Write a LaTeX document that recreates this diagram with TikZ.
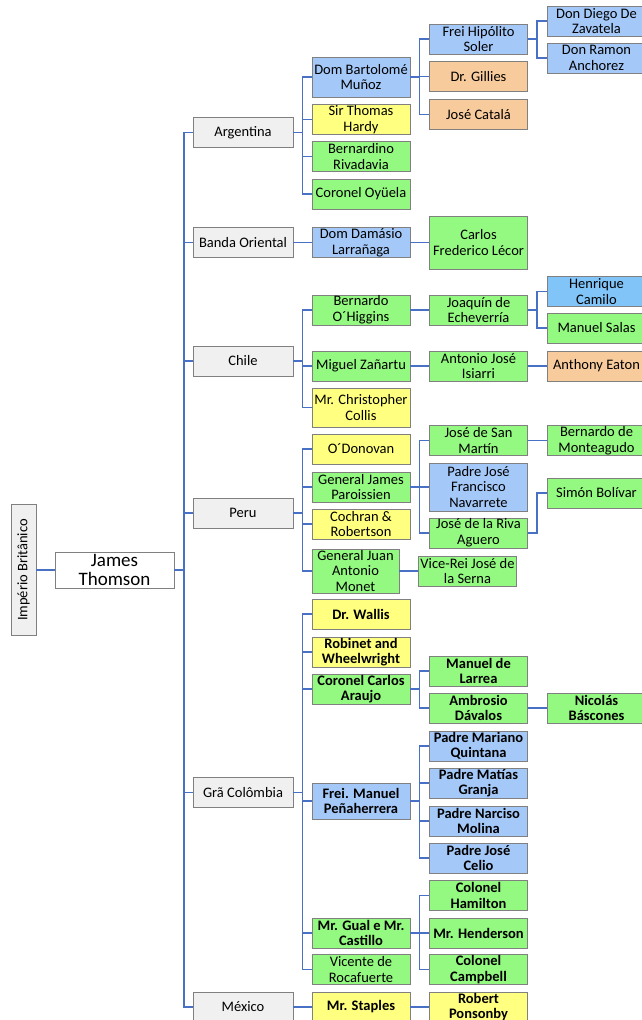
\documentclass[tikz,border=0pt]{standalone}
\usepackage{fontspec}
\setmainfont{Carlito}

\definecolor{boxline}{RGB}{128,128,128}
\definecolor{linkblue}{RGB}{72,112,196}
\definecolor{greyfill}{RGB}{240,240,240}
\definecolor{bluefill}{RGB}{164,200,248}
\definecolor{skyfill}{RGB}{128,196,248}
\definecolor{orangefill}{RGB}{248,203,157}
\definecolor{yellowfill}{RGB}{255,255,128}
\definecolor{greenfill}{RGB}{147,249,128}

\begin{document}
\begin{tikzpicture}[
        x=1pt, y=-1pt,
        base/.style={rectangle, draw=boxline, line width=0.8pt, align=center, inner xsep=1pt, inner ysep=0pt, minimum width=98pt, minimum height=30pt, font=\fontsize{14.5}{15.6}\selectfont},
        country/.style={base, fill=greyfill, minimum width=100pt},
        bluebox/.style={base, fill=bluefill},
        skybox/.style={base, fill=skyfill},
        orangebox/.style={base, fill=orangefill},
        yellowbox/.style={base, fill=yellowfill},
        greenbox/.style={base, fill=greenfill},
        heavy/.style={font=\fontsize{14.5}{15.6}\selectfont\bfseries},
        link/.style={draw=linkblue, line width=1.3pt}
    ]
    \useasboundingbox (0,0) rectangle (641,1020);

    \node[base, fill=greyfill, rotate=90, minimum width=131pt, minimum height=25pt] (imperio) at (23.5,570) {Império Britânico};
    \node[base, fill=white, minimum width=119pt, minimum height=36pt, font=\fontsize{19}{18.5}\selectfont] (james) at (114.5,570) {James\\Thomson};

    \node[country] (argentina) at (243,132.5) {Argentina};
    \node[country] (banda) at (243,242.5) {Banda Oriental};
    \node[country] (chile) at (243,361) {Chile};
    \node[country] (peru) at (243,513) {Peru};
    \node[country] (gran) at (243,792.5) {Grã Colômbia};
    \node[country] (mexico) at (243,1007) {México};

    \node[bluebox, minimum height=40pt] (bartolome) at (361,77) {Dom Bartolomé\\Muñoz};
    \node[yellowbox] (hardy) at (361,119.5) {Sir Thomas\\Hardy};
    \node[greenbox] (rivadavia) at (361,156.5) {Bernardino\\Rivadavia};
    \node[greenbox] (oyuela) at (361,194) {Coronel Oyüela};
    \node[bluebox] (damasio) at (361,242.5) {Dom Damásio\\Larrañaga};
    \node[greenbox] (ohiggins) at (361,310) {Bernardo\\O´Higgins};
    \node[greenbox] (zanartu) at (361,366) {Miguel Zañartu};
    \node[yellowbox, minimum height=39pt] (collis) at (361,407.5) {Mr. Christopher\\Collis};
    \node[yellowbox] (odonovan) at (361,449) {O´Donovan};
    \node[greenbox] (paroissien) at (361,487) {General James\\Paroissien};
    \node[yellowbox] (cochran) at (361,524) {Cochran \&\\Robertson};
    \node[greenbox, minimum width=87pt, minimum height=44pt] (monet) at (355.5,571) {General Juan\\Antonio\\Monet};
    \node[yellowbox, heavy] (wallis) at (361,614) {Dr. Wallis};
    \node[yellowbox, heavy] (robinet) at (361,652) {Robinet and\\Wheelwright};
    \node[greenbox, heavy] (araujo) at (361,689) {Coronel Carlos\\Araujo};
    \node[bluebox, heavy, minimum height=36pt] (penaherrera) at (361,801) {Frei. Manuel\\Peñaherrera};
    \node[greenbox, heavy] (gual) at (361,933) {Mr. Gual e Mr.\\Castillo};
    \node[greenbox] (rocafuerte) at (361,969.5) {Vicente de\\Rocafuerte};
    \node[yellowbox, heavy] (staples) at (361,1007) {Mr. Staples};

    \node[bluebox] (hipolito) at (478.5,39) {Frei Hipólito\\Soler};
    \node[orangebox] (gillies) at (478.5,76.5) {Dr. Gillies};
    \node[orangebox] (catala) at (478.5,114.5) {José Catalá};
    \node[greenbox, minimum height=53pt] (lecor) at (478.5,242.5) {Carlos\\Frederico Lécor};
    \node[greenbox] (joaquin) at (478.5,310) {Joaquín de\\Echeverría};
    \node[greenbox] (isiarri) at (478.5,366) {Antonio José\\Isiarri};
    \node[greenbox] (sanmartin) at (478.5,440.5) {José de San\\Martín};
    \node[bluebox, minimum height=48pt] (navarrete) at (478.5,487) {Padre José\\Francisco\\Navarrete};
    \node[greenbox] (riva) at (478.5,533) {José de la Riva\\Aguero};
    \node[greenbox] (serna) at (467.5,571) {Vice-Rei José de\\la Serna};
    \node[greenbox, heavy] (larrea) at (478.5,671) {Manuel de\\Larrea};
    \node[greenbox, heavy] (davalos) at (478.5,708) {Ambrosio\\Dávalos};
    \node[bluebox, heavy] (quintana) at (478.5,746) {Padre Mariano\\Quintana};
    \node[bluebox, heavy] (granja) at (478.5,783) {Padre Matías\\Granja};
    \node[bluebox, heavy] (molina) at (478.5,821) {Padre Narciso\\Molina};
    \node[bluebox, heavy] (celio) at (478.5,858) {Padre José\\Celio};
    \node[greenbox, heavy] (hamilton) at (478.5,895.5) {Colonel\\Hamilton};
    \node[greenbox, heavy] (henderson) at (478.5,933) {Mr. Henderson};
    \node[greenbox, heavy] (campbell) at (478.5,969.5) {Colonel\\Campbell};
    \node[yellowbox, heavy] (ponsonby) at (478.5,1007) {Robert\\Ponsonby};

    \node[bluebox] (zavatela) at (596.5,21) {Don Diego De\\Zavatela};
    \node[bluebox] (anchorez) at (596.5,58) {Don Ramon\\Anchorez};
    \node[skybox] (camilo) at (596.5,291.5) {Henrique\\Camilo};
    \node[greenbox] (salas) at (596.5,328) {Manuel Salas};
    \node[orangebox] (eaton) at (596.5,366) {Anthony Eaton};
    \node[greenbox] (monteagudo) at (596.5,440.5) {Bernardo de\\Monteagudo};
    \node[greenbox] (bolivar) at (596.5,493) {Simón Bolívar};
    \node[greenbox, heavy] (bascones) at (596.5,708) {Nicolás\\Báscones};

    \draw[link] (imperio) -- (james);
    \draw[link] (james.east) -- ++(9.5,0) |- (argentina.west);
    \draw[link] (james.east) -- ++(9.5,0) |- (banda.west);
    \draw[link] (james.east) -- ++(9.5,0) |- (chile.west);
    \draw[link] (james.east) -- ++(9.5,0) |- (peru.west);
    \draw[link] (james.east) -- ++(9.5,0) |- (gran.west);
    \draw[link] (james.east) -- ++(9.5,0) |- (mexico.west);

    \draw[link] (argentina.east) -- ++(9,0) |- (bartolome.west);
    \draw[link] (argentina.east) -- ++(9,0) |- (hardy.west);
    \draw[link] (argentina.east) -- ++(9,0) |- (rivadavia.west);
    \draw[link] (argentina.east) -- ++(9,0) |- (oyuela.west);
    \draw[link] (bartolome.east) -- ++(9,0) |- (hipolito.west);
    \draw[link] (bartolome.east) -- ++(9,0) |- (gillies.west);
    \draw[link] (bartolome.east) -- ++(9,0) |- (catala.west);
    \draw[link] (hipolito.east) -- ++(9,0) |- (zavatela.west);
    \draw[link] (hipolito.east) -- ++(9,0) |- (anchorez.west);

    \draw[link] (banda) -- (damasio);
    \draw[link] (damasio) -- (lecor);

    \draw[link] (chile.east) -- ++(9,0) |- (ohiggins.west);
    \draw[link] (chile.east) -- ++(9,0) |- (zanartu.west);
    \draw[link] (chile.east) -- ++(9,0) |- (collis.west);
    \draw[link] (ohiggins) -- (joaquin);
    \draw[link] (joaquin.east) -- ++(9,0) |- (camilo.west);
    \draw[link] (joaquin.east) -- ++(9,0) |- (salas.west);
    \draw[link] (zanartu) -- (isiarri);
    \draw[link] (isiarri) -- (eaton);

    \draw[link] (peru.east) -- ++(9,0) |- (odonovan.west);
    \draw[link] (peru.east) -- ++(9,0) |- (paroissien.west);
    \draw[link] (peru.east) -- ++(9,0) |- (cochran.west);
    \draw[link] (peru.east) -- ++(9,0) |- (monet.west);
    \draw[link] (paroissien.east) -- ++(9,0) |- (sanmartin.west);
    \draw[link] (paroissien.east) -- ++(9,0) |- (navarrete.west);
    \draw[link] (paroissien.east) -- ++(9,0) |- (riva.west);
    \draw[link] (sanmartin) -- (monteagudo);
    \draw[link] (riva.east) -- ++(9,0) |- (bolivar.west);
    \draw[link] (monet) -- (serna);

    \draw[link] (gran.east) -- ++(9,0) |- (wallis.west);
    \draw[link] (gran.east) -- ++(9,0) |- (robinet.west);
    \draw[link] (gran.east) -- ++(9,0) |- (araujo.west);
    \draw[link] (gran.east) -- ++(9,0) |- (penaherrera.west);
    \draw[link] (gran.east) -- ++(9,0) |- (gual.west);
    \draw[link] (gran.east) -- ++(9,0) |- (rocafuerte.west);
    \draw[link] (araujo.east) -- ++(9,0) |- (larrea.west);
    \draw[link] (araujo.east) -- ++(9,0) |- (davalos.west);
    \draw[link] (davalos) -- (bascones);
    \draw[link] (penaherrera.east) -- ++(9,0) |- (quintana.west);
    \draw[link] (penaherrera.east) -- ++(9,0) |- (granja.west);
    \draw[link] (penaherrera.east) -- ++(9,0) |- (molina.west);
    \draw[link] (penaherrera.east) -- ++(9,0) |- (celio.west);
    \draw[link] (gual.east) -- ++(9,0) |- (hamilton.west);
    \draw[link] (gual.east) -- ++(9,0) |- (henderson.west);
    \draw[link] (gual.east) -- ++(9,0) |- (campbell.west);

    \draw[link] (mexico) -- (staples);
    \draw[link] (staples) -- (ponsonby);

\end{tikzpicture}
\end{document}
